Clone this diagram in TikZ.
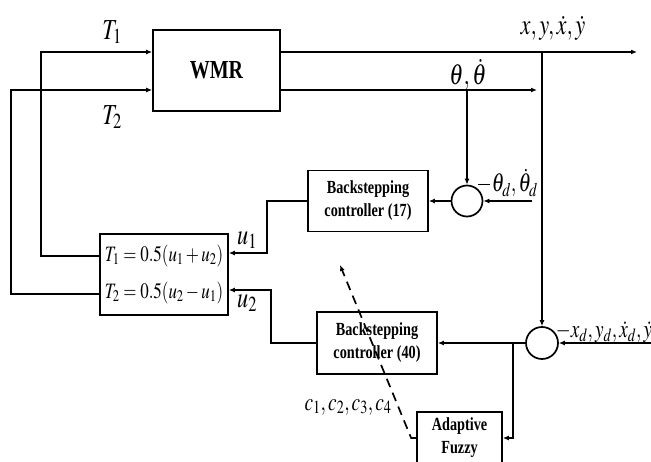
\documentclass[tikz,border=0pt]{standalone}
\usepackage{mathptmx}
\usepackage{fontspec}
\setmainfont[FakeStretch=0.77]{Liberation Serif}
\usepackage{graphicx}
\usetikzlibrary{arrows.meta}
\newcommand{\sqz}[1]{\scalebox{0.77}[1]{$#1$}}
\tikzset{
  blk/.style={draw, align=center, font=\fontsize{18.5}{23}\selectfont\bfseries},
  sumc/.style={draw, circle, minimum size=31pt, inner sep=0pt},
  lbl/.style={inner sep=0pt, font=\fontsize{29}{32}\selectfont},
}
\begin{document}
\begin{tikzpicture}[x=1pt, y=-1pt, >={Latex[length=6pt,width=5pt]}, line width=1.7pt]
  \useasboundingbox (0,0) rectangle (651,462);

  % ---- bloky ----
  \node[blk, minimum width=127pt, minimum height=81pt, font=\fontsize{26}{30}\selectfont\bfseries] (wmr) at (216.5,70.5) {WMR};
  \node[draw, minimum width=128pt, minimum height=81pt, align=center, font=\fontsize{22}{37}\selectfont] (eq) at (164,274.5)
    {\sqz{T_1=0.5(u_1+u_2)}\\\sqz{T_2=0.5(u_2-u_1)}};
  \node[blk, minimum width=120pt, minimum height=61pt] (bs17) at (368,201) {Backstepping\\controller (17)};
  \node[blk, minimum width=120pt, minimum height=62pt] (bs40) at (377,343) {Backstepping\\controller (40)};
  \node[blk, minimum width=85pt, minimum height=52pt] (fuzzy) at (459.5,438) {Adaptive\\Fuzzy};
  \node[sumc] (sum1) at (467,201) {};
  \node[sumc, minimum size=32pt] (sum2) at (542,343) {};

  % ---- volne konce ----
  \coordinate (xyout) at (637,52);
  \coordinate (thout) at (537,90);
  \coordinate (thdin) at (532,201);
  \coordinate (xdin) at (651,343);
  \coordinate (br) at (513,343);
  \coordinate (gain) at (340,265);

  % ---- vystupy WMR ----
  \draw[->] ([yshift=18.5pt]wmr.east) -- (xyout);
  \draw[->] ([yshift=-19.5pt]wmr.east) -- (thout);
  \draw[->] (sum1 |- thout) -- (sum1);
  \draw[->] (sum2 |- xyout) -- (sum2);

  % ---- referencni vstupy ----
  \draw[->] (thdin) -- (sum1);
  \draw[->] (xdin) -- (sum2);
  \draw[->] (sum1) -- (bs17);
  \draw[->] (sum2) -- (bs40);
  \draw[->] (br) |- (fuzzy.east);
  \draw[->, dash pattern=on 9pt off 6pt] (fuzzy.west) -- ++(-5,0) -- (gain);

  % ---- rizeni u1, u2 ----
  \draw[->] (bs17.west) -- ++(-40,0) |- ([yshift=21.5pt]eq.east);
  \draw[->] (bs40.west) -- ++(-45,0) |- ([yshift=-15.5pt]eq.east);

  % ---- momenty T1, T2 ----
  \draw[->] ([yshift=18.5pt]eq.west) -- ++(-58,0) |- ([yshift=18.5pt]wmr.west);
  \draw[->] ([yshift=-19.5pt]eq.west) -- ++(-88,0) |- ([yshift=-19.5pt]wmr.west);

  % ---- popisky ----
  \node[lbl] (t1lbl) at (112,32) {\sqz{T_1}};
  \node[lbl] (t2lbl) at (112,117) {\sqz{T_2}};
  \node[lbl] (xylbl) at (553,28) {\sqz{x, y, \dot{x}, \dot{y}}};
  \node[lbl] (thlbl) at (468,75) {\sqz{\theta, \dot{\theta}}};
  \node[lbl, font=\fontsize{26}{28}\selectfont] (thdlbl) at (507,183) {\sqz{-\theta_d, \dot{\theta}_d}};
  \node[lbl] (u1lbl) at (247,240) {\sqz{u_1}};
  \node[lbl] (u2lbl) at (247,303) {\sqz{u_2}};
  \node[lbl, anchor=west, font=\fontsize{25}{28}\selectfont] (xdlbl) at (555,332) {\sqz{-x_d, y_d, \dot{x}_d, \dot{y}_d}};
  \node[lbl, font=\fontsize{25}{28}\selectfont] (clbl) at (348,407) {\sqz{c_1, c_2, c_3, c_4}};
\end{tikzpicture}
\end{document}
